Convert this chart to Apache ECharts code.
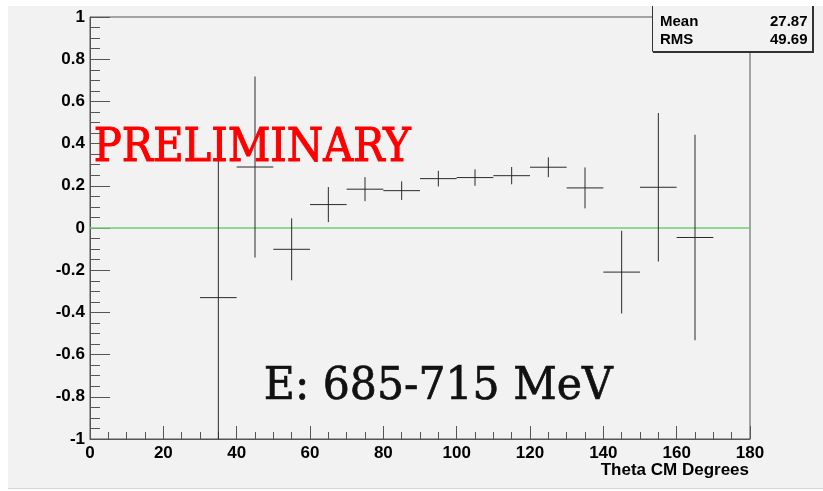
<!DOCTYPE html>
<html>
<head>
<meta charset="utf-8">
<script src="https://cdn.jsdelivr.net/npm/echarts@6/dist/echarts.min.js"></script>
<style>
  html, body { margin: 0; padding: 0; background: #fff; }
  #chart { width: 823px; height: 491px; }
</style>
</head>
<body>
<div id="chart"></div>
<script>
// Beam asymmetry vs. CM angle, E = 685-715 MeV
const binCenters = [35, 45, 55, 65, 75, 85, 95, 105, 115, 125, 135, 145, 155, 165];
const binWidth = 10;
const asymmetry = [-0.330, 0.289, -0.101, 0.111, 0.184, 0.177, 0.234, 0.239, 0.248, 0.288, 0.190, -0.209, 0.193, -0.045];
const asymErrors = [0.67, 0.429, 0.147, 0.083, 0.057, 0.044, 0.037, 0.039, 0.041, 0.047, 0.097, 0.196, 0.352, 0.487];
const xTicks = [0, 20, 40, 60, 80, 100, 120, 140, 160, 180];
const yTicks = [-1, -0.8, -0.6, -0.4, -0.2, 0, 0.2, 0.4, 0.6, 0.8, 1];
const zeroLevel = 0;
const statNames = ['Mean', 'RMS'];
const statValues = ['27.87', '49.69'];
const xTitle = 'Theta CM Degrees';
const stampText = 'PRELIMINARY';
const energyText = 'E: 685-715 MeV';

const axisGray = '#555';
const serifFont = "'DejaVu Serif', 'Liberation Serif', serif";

// horizontal squeeze so a serif label spans a given width
function squeezeFor(text, font, targetWidth) {
  const ctx = document.createElement('canvas').getContext('2d');
  ctx.font = font;
  const w = ctx.measureText(text).width;
  return targetWidth / w;
}

const stampFont = '46px ' + serifFont;
const energyFont = '45px ' + serifFont;
const stampScale = squeezeFor(stampText, stampFont, 317);
const energyScale = squeezeFor(energyText, energyFont, 349);

const points = binCenters.map((x, i) => [x, asymmetry[i], asymErrors[i]]);

function renderErrorCross(params, api) {
  const x = api.value(0), y = api.value(1), e = api.value(2);
  const half = binWidth / 2;
  const l = api.coord([x - half, y]);
  const r = api.coord([x + half, y]);
  const t = api.coord([x, y + e]);
  const b = api.coord([x, y - e]);
  const cs = params.coordSys;
  const clampY = v => Math.max(cs.y, Math.min(cs.y + cs.height, v));
  const style = { stroke: '#2a2a2a', lineWidth: 1 };
  return {
    type: 'group',
    children: [
      { type: 'line', shape: { x1: l[0], y1: l[1], x2: r[0], y2: r[1] }, style: style },
      { type: 'line', shape: { x1: t[0], y1: clampY(t[1]), x2: b[0], y2: clampY(b[1]) }, style: style }
    ]
  };
}

const fmt = v => String(+v.toFixed(1));

const chart = echarts.init(document.getElementById('chart'), null, { renderer: 'canvas' });
chart.setOption({
  backgroundColor: '#f2f2f2',
  animation: false,
  grid: {
    left: 90, top: 17, width: 660, height: 422,
    show: true, borderColor: axisGray, borderWidth: 1, backgroundColor: 'transparent'
  },
  xAxis: {
    type: 'value',
    min: xTicks[0], max: xTicks[xTicks.length - 1], interval: xTicks[1] - xTicks[0],
    axisLine: { show: true, onZero: false, lineStyle: { color: axisGray, width: 1 } },
    axisTick: { show: true, inside: true, length: 13, lineStyle: { color: axisGray } },
    minorTick: { show: true, splitNumber: 4, length: 7, lineStyle: { color: axisGray } },
    splitLine: { show: false },
    axisLabel: {
      margin: 6, color: '#000', fontSize: 17, fontWeight: 'bold',
      fontFamily: "'Liberation Sans', Arial, sans-serif", formatter: fmt
    }
  },
  yAxis: {
    type: 'value',
    min: yTicks[0], max: yTicks[yTicks.length - 1], interval: 0.2,
    axisLine: { show: true, onZero: false, lineStyle: { color: axisGray, width: 1 } },
    axisTick: { show: true, inside: true, length: 20, lineStyle: { color: axisGray } },
    minorTick: { show: true, splitNumber: 4, length: 10, lineStyle: { color: axisGray } },
    splitLine: { show: false },
    axisLabel: {
      margin: 5, color: '#000', fontSize: 17, fontWeight: 'bold',
      fontFamily: "'Liberation Sans', Arial, sans-serif", formatter: fmt
    }
  },
  series: [
    {
      type: 'custom',
      renderItem: renderErrorCross,
      data: points,
      z: 3,
      markLine: {
        silent: true, symbol: 'none', label: { show: false },
        lineStyle: { color: '#6fcf6f', width: 1.5, type: 'solid' },
        data: [{ yAxis: zeroLevel }],
        z: 2
      }
    }
  ],
  graphic: [
    // stats box
    { type: 'rect', z: 50, shape: { x: 653, y: -20, width: 161, height: 73 }, style: { fill: '#333' } },
    { type: 'rect', z: 51, shape: { x: 652.5, y: -21, width: 160, height: 72.5 },
      style: { fill: '#f2f2f2', stroke: '#333', lineWidth: 1 } },
    ...statNames.map((n, i) => ({
      type: 'text', z: 52, x: 660, y: 21.5 + i * 18.5,
      style: { text: n, fill: '#000', font: "bold 15px 'Liberation Sans', Arial, sans-serif",
        align: 'left', verticalAlign: 'middle' }
    })),
    ...statValues.map((v, i) => ({
      type: 'text', z: 52, x: 807.5, y: 21.5 + i * 18.5,
      style: { text: v, fill: '#000', font: "bold 15px 'Liberation Sans', Arial, sans-serif",
        align: 'right', verticalAlign: 'middle' }
    })),
    // x axis title
    { type: 'text', z: 20, x: 749, y: 462,
      style: { text: xTitle, fill: '#000', font: "bold 17px 'Liberation Sans', Arial, sans-serif",
        align: 'right', verticalAlign: 'top' } },
    // overlay stamps (regular face, thickened with a matching outline)
    { type: 'text', z: 40, x: 93.8, y: 149, scaleX: stampScale,
      style: { text: stampText, fill: '#ff0000', stroke: '#ff0000', lineWidth: 1.1, font: stampFont,
        align: 'left', verticalAlign: 'middle' } },
    { type: 'text', z: 40, x: 263.8, y: 387, scaleX: energyScale,
      style: { text: energyText, fill: '#111', stroke: '#111', lineWidth: 0.7, font: energyFont,
        align: 'left', verticalAlign: 'middle' } },
    // white page margins
    { type: 'rect', z: 90, shape: { x: 0, y: 0, width: 823, height: 6 }, style: { fill: '#fff' } },
    { type: 'rect', z: 90, shape: { x: 0, y: 0, width: 8, height: 491 }, style: { fill: '#fff' } },
    { type: 'rect', z: 90, shape: { x: 0, y: 489, width: 823, height: 2 }, style: { fill: '#fff' } },
    { type: 'line', z: 91, shape: { x1: 8, y1: 488.5, x2: 823, y2: 488.5 }, style: { stroke: '#d4d4d4', lineWidth: 1 } }
  ]
});
</script>
</body>
</html>
